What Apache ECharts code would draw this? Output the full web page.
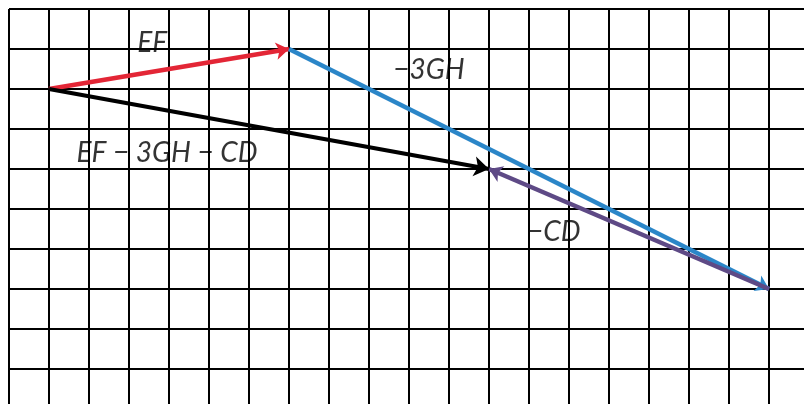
<!DOCTYPE html>
<html>
<head>
<meta charset="utf-8">
<script src="https://cdn.jsdelivr.net/npm/echarts@6/dist/echarts.min.js"></script>
<style>html,body{margin:0;padding:0;background:#fff}#c{width:804px;height:404px}</style>
</head>
<body>
<div id="c"></div>
<script>
// Grid extent (cells)
const xRange = [0, 20];
const yRange = [0, 10];
// Vectors (grid coordinates, y counted downward from top)
const vectorNames = ['EF', '−3GH', '−CD', 'EF − 3GH − CD'];
const vectorStarts = [[1, 2], [7, 1], [19, 7], [1, 2]];
const vectorEnds = [[7, 1], [19, 7], [12, 4], [12, 4]];
const vectorColors = ['#e32636', '#2b86c8', '#5e4a86', '#000000'];
// Label anchors (grid coordinates)
const labelAnchors = [[3.58, 0.85], [10.5, 1.52], [13.62, 5.57], [3.95, 3.6]];

const chart = echarts.init(document.getElementById('c'), null, {renderer: 'canvas'});
const axisCommon = {
  type: 'value', interval: 1,
  axisLine: {show: false}, axisTick: {show: false}, axisLabel: {show: false},
  splitLine: {show: true, lineStyle: {color: '#000', width: 2}}
};
const drawOrder = [0, 3, 1, 2];
const lineSeries = drawOrder.map(i => ({
  type: 'lines', coordinateSystem: 'cartesian2d', z: 3 + i,
  symbol: ['none', 'arrow'], symbolSize: i === 3 ? 15 : 13,
  lineStyle: {color: vectorColors[i], width: i === 3 ? 4 : 4.5, opacity: 1, curveness: 0},
  itemStyle: {color: vectorColors[i]},
  data: [{coords: [vectorStarts[i], vectorEnds[i]]}]
}));
chart.setOption({
  animation: false,
  grid: {left: 9, top: 9, width: 800, height: 400, containLabel: false, outerBoundsMode: 'none'},
  xAxis: Object.assign({min: xRange[0], max: xRange[1]}, axisCommon),
  yAxis: Object.assign({min: yRange[0], max: yRange[1], inverse: true}, axisCommon),
  series: lineSeries.concat([{
    type: 'scatter', symbolSize: 0, z: 10,
    data: vectorNames.map((n, i) => ({value: labelAnchors[i], name: n})),
    label: {
      show: true, position: 'inside', formatter: p => p.name,
      fontFamily: 'Lato', fontStyle: 'italic', fontSize: 28, color: '#000'
    }
  }])
});
</script>
</body>
</html>
